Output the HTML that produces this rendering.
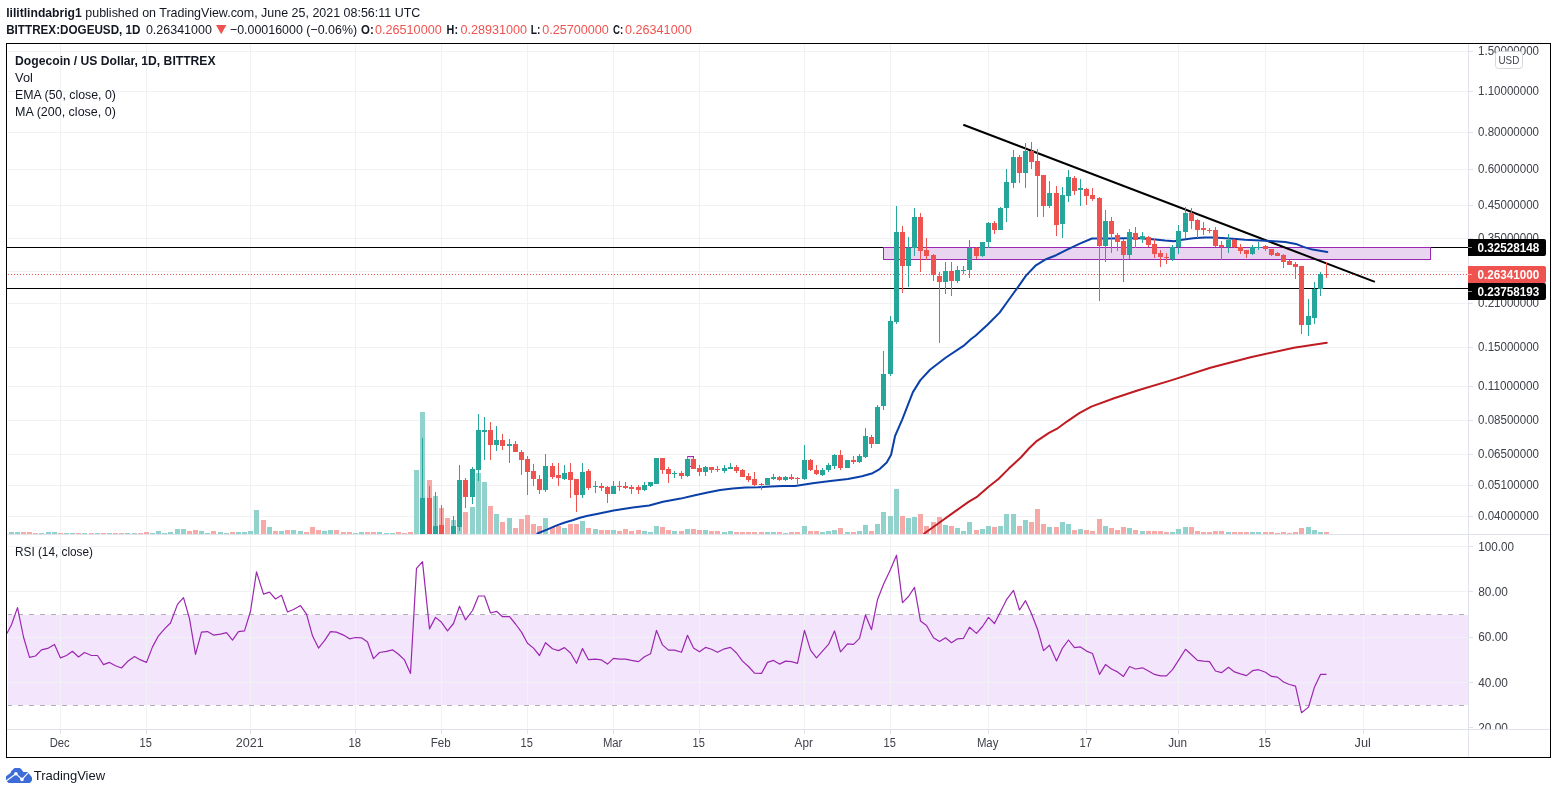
<!DOCTYPE html>
<html><head><meta charset="utf-8"><title>DOGEUSD chart</title><style>
html,body{margin:0;padding:0;background:#fff;width:1557px;height:794px;overflow:hidden}
svg{position:absolute;left:0;top:0;display:block}
text{font-family:"Liberation Sans",Arial,sans-serif}
</style></head><body>
<svg width="1557" height="794" viewBox="0 0 1557 794" shape-rendering="crispEdges">
<defs><clipPath id="pp"><rect x="7" y="44" width="1461" height="490"/></clipPath><clipPath id="rp"><rect x="7" y="535" width="1461" height="194"/></clipPath><clipPath id="ax"><rect x="1469" y="44" width="81" height="490"/></clipPath><clipPath id="ax2"><rect x="1469" y="535" width="81" height="194"/></clipPath></defs>
<rect x="0" y="0" width="1557" height="794" fill="#fff"/>
<text x="6.2" y="16.7" font-size="13" font-weight="bold" fill="#131722" textLength="75.6" lengthAdjust="spacingAndGlyphs">lilitlindabrig1</text>
<text x="85.3" y="16.7" font-size="13" fill="#131722" textLength="335" lengthAdjust="spacingAndGlyphs">published on TradingView.com, June 25, 2021 08:56:11 UTC</text>
<text x="6.2" y="33.9" font-size="13" font-weight="bold" fill="#131722" textLength="134.3" lengthAdjust="spacingAndGlyphs">BITTREX:DOGEUSD, 1D</text>
<text x="145.9" y="33.9" font-size="13" fill="#131722" textLength="66" lengthAdjust="spacingAndGlyphs">0.26341000</text>
<path d="M216 25 L226.4 25 L221.2 34.3 Z" fill="#ef5350" shape-rendering="auto"/>
<text x="229.9" y="33.9" font-size="13" fill="#131722" textLength="127.2" lengthAdjust="spacingAndGlyphs">−0.00016000 (−0.06%)</text>
<text x="361.0" y="33.9" font-size="13" font-weight="bold" fill="#131722" textLength="12.7" lengthAdjust="spacingAndGlyphs">O:</text>
<text x="374.9" y="33.9" font-size="13" fill="#ef5350" textLength="66.9" lengthAdjust="spacingAndGlyphs">0.26510000</text>
<text x="446.6" y="33.9" font-size="13" font-weight="bold" fill="#131722" textLength="11.4" lengthAdjust="spacingAndGlyphs">H:</text>
<text x="460.4" y="33.9" font-size="13" fill="#ef5350" textLength="66.6" lengthAdjust="spacingAndGlyphs">0.28931000</text>
<text x="530.8" y="33.9" font-size="13" font-weight="bold" fill="#131722" textLength="9.6" lengthAdjust="spacingAndGlyphs">L:</text>
<text x="542.2" y="33.9" font-size="13" fill="#ef5350" textLength="66.6" lengthAdjust="spacingAndGlyphs">0.25700000</text>
<text x="613.0" y="33.9" font-size="13" font-weight="bold" fill="#131722" textLength="10.2" lengthAdjust="spacingAndGlyphs">C:</text>
<text x="625.0" y="33.9" font-size="13" fill="#ef5350" textLength="66.7" lengthAdjust="spacingAndGlyphs">0.26341000</text>
<rect x="8" y="615" width="1460" height="90" fill="#f3e6fc"/>
<g fill="#f1f2f3"><rect x="8" y="51" width="1460" height="1"/><rect x="8" y="91" width="1460" height="1"/><rect x="8" y="132" width="1460" height="1"/><rect x="8" y="169" width="1460" height="1"/><rect x="8" y="205" width="1460" height="1"/><rect x="8" y="238" width="1460" height="1"/><rect x="8" y="271" width="1460" height="1"/><rect x="8" y="303" width="1460" height="1"/><rect x="8" y="347" width="1460" height="1"/><rect x="8" y="386" width="1460" height="1"/><rect x="8" y="420" width="1460" height="1"/><rect x="8" y="454" width="1460" height="1"/><rect x="8" y="485" width="1460" height="1"/><rect x="8" y="516" width="1460" height="1"/><rect x="8" y="546" width="1460" height="1"/><rect x="8" y="591" width="1460" height="1"/><rect x="8" y="637" width="1460" height="1"/><rect x="8" y="682" width="1460" height="1"/><rect x="60" y="44" width="1" height="490"/><rect x="60" y="535" width="1" height="194"/><rect x="146" y="44" width="1" height="490"/><rect x="146" y="535" width="1" height="194"/><rect x="250" y="44" width="1" height="490"/><rect x="250" y="535" width="1" height="194"/><rect x="355" y="44" width="1" height="490"/><rect x="355" y="535" width="1" height="194"/><rect x="441" y="44" width="1" height="490"/><rect x="441" y="535" width="1" height="194"/><rect x="527" y="44" width="1" height="490"/><rect x="527" y="535" width="1" height="194"/><rect x="613" y="44" width="1" height="490"/><rect x="613" y="535" width="1" height="194"/><rect x="699" y="44" width="1" height="490"/><rect x="699" y="535" width="1" height="194"/><rect x="804" y="44" width="1" height="490"/><rect x="804" y="535" width="1" height="194"/><rect x="890" y="44" width="1" height="490"/><rect x="890" y="535" width="1" height="194"/><rect x="988" y="44" width="1" height="490"/><rect x="988" y="535" width="1" height="194"/><rect x="1086" y="44" width="1" height="490"/><rect x="1086" y="535" width="1" height="194"/><rect x="1178" y="44" width="1" height="490"/><rect x="1178" y="535" width="1" height="194"/><rect x="1265" y="44" width="1" height="490"/><rect x="1265" y="535" width="1" height="194"/><rect x="1363" y="44" width="1" height="490"/><rect x="1363" y="535" width="1" height="194"/></g>
<line x1="8" y1="614.5" x2="1468" y2="614.5" stroke="#aeb0b6" stroke-width="1" stroke-dasharray="5 6" stroke-dashoffset="1"/>
<line x1="8" y1="705.5" x2="1468" y2="705.5" stroke="#aeb0b6" stroke-width="1" stroke-dasharray="5 6" stroke-dashoffset="1"/>
<g clip-path="url(#pp)"><rect x="2" y="532" width="5" height="2" fill="#f7a9a7"/><rect x="9" y="532" width="5" height="2" fill="#92d2cc"/><rect x="15" y="532" width="5" height="2" fill="#92d2cc"/><rect x="21" y="532" width="5" height="2" fill="#f7a9a7"/><rect x="27" y="532" width="5" height="2" fill="#f7a9a7"/><rect x="33" y="533" width="5" height="1" fill="#f7a9a7"/><rect x="39" y="533" width="5" height="1" fill="#92d2cc"/><rect x="46" y="532" width="5" height="2" fill="#92d2cc"/><rect x="52" y="532" width="5" height="2" fill="#92d2cc"/><rect x="58" y="533" width="5" height="1" fill="#f7a9a7"/><rect x="64" y="533" width="5" height="1" fill="#92d2cc"/><rect x="70" y="533" width="5" height="1" fill="#92d2cc"/><rect x="76" y="533" width="5" height="1" fill="#f7a9a7"/><rect x="82" y="533" width="5" height="1" fill="#92d2cc"/><rect x="89" y="533" width="5" height="1" fill="#f7a9a7"/><rect x="95" y="533" width="5" height="1" fill="#92d2cc"/><rect x="101" y="533" width="5" height="1" fill="#f7a9a7"/><rect x="107" y="533" width="5" height="1" fill="#92d2cc"/><rect x="113" y="533" width="5" height="1" fill="#f7a9a7"/><rect x="119" y="533" width="5" height="1" fill="#f7a9a7"/><rect x="125" y="533" width="5" height="1" fill="#92d2cc"/><rect x="132" y="533" width="5" height="1" fill="#92d2cc"/><rect x="138" y="533" width="5" height="1" fill="#f7a9a7"/><rect x="144" y="532" width="5" height="2" fill="#f7a9a7"/><rect x="150" y="533" width="5" height="1" fill="#92d2cc"/><rect x="156" y="531" width="5" height="3" fill="#92d2cc"/><rect x="162" y="533" width="5" height="1" fill="#92d2cc"/><rect x="168" y="532" width="5" height="2" fill="#92d2cc"/><rect x="175" y="529" width="5" height="5" fill="#92d2cc"/><rect x="181" y="529" width="5" height="5" fill="#92d2cc"/><rect x="187" y="531" width="5" height="3" fill="#f7a9a7"/><rect x="193" y="530" width="5" height="4" fill="#f7a9a7"/><rect x="199" y="531" width="5" height="3" fill="#92d2cc"/><rect x="205" y="533" width="5" height="1" fill="#92d2cc"/><rect x="211" y="531" width="5" height="3" fill="#f7a9a7"/><rect x="218" y="532" width="5" height="2" fill="#92d2cc"/><rect x="224" y="533" width="5" height="1" fill="#92d2cc"/><rect x="230" y="532" width="5" height="2" fill="#f7a9a7"/><rect x="236" y="532" width="5" height="2" fill="#92d2cc"/><rect x="242" y="532" width="5" height="2" fill="#92d2cc"/><rect x="248" y="531" width="5" height="3" fill="#92d2cc"/><rect x="254" y="510" width="5" height="24" fill="#92d2cc"/><rect x="261" y="520" width="5" height="14" fill="#f7a9a7"/><rect x="267" y="527" width="5" height="7" fill="#92d2cc"/><rect x="273" y="531" width="5" height="3" fill="#f7a9a7"/><rect x="279" y="531" width="5" height="3" fill="#92d2cc"/><rect x="285" y="530" width="5" height="4" fill="#f7a9a7"/><rect x="291" y="530" width="5" height="4" fill="#92d2cc"/><rect x="298" y="531" width="5" height="3" fill="#92d2cc"/><rect x="304" y="532" width="5" height="2" fill="#f7a9a7"/><rect x="310" y="527" width="5" height="7" fill="#f7a9a7"/><rect x="316" y="530" width="5" height="4" fill="#f7a9a7"/><rect x="322" y="531" width="5" height="3" fill="#92d2cc"/><rect x="328" y="530" width="5" height="4" fill="#92d2cc"/><rect x="334" y="530" width="5" height="4" fill="#f7a9a7"/><rect x="341" y="532" width="5" height="2" fill="#f7a9a7"/><rect x="347" y="532" width="5" height="2" fill="#f7a9a7"/><rect x="353" y="533" width="5" height="1" fill="#92d2cc"/><rect x="359" y="532" width="5" height="2" fill="#92d2cc"/><rect x="365" y="532" width="5" height="2" fill="#f7a9a7"/><rect x="371" y="532" width="5" height="2" fill="#f7a9a7"/><rect x="377" y="532" width="5" height="2" fill="#92d2cc"/><rect x="384" y="533" width="5" height="1" fill="#92d2cc"/><rect x="390" y="533" width="5" height="1" fill="#92d2cc"/><rect x="396" y="532" width="5" height="2" fill="#f7a9a7"/><rect x="402" y="533" width="5" height="1" fill="#f7a9a7"/><rect x="408" y="532" width="5" height="2" fill="#f7a9a7"/><rect x="414" y="470" width="5" height="64" fill="#92d2cc"/><rect x="420" y="412" width="5" height="122" fill="#92d2cc"/><rect x="427" y="480" width="5" height="54" fill="#f7a9a7"/><rect x="433" y="496" width="5" height="38" fill="#92d2cc"/><rect x="439" y="508" width="5" height="26" fill="#f7a9a7"/><rect x="445" y="518" width="5" height="16" fill="#f7a9a7"/><rect x="451" y="520" width="5" height="14" fill="#92d2cc"/><rect x="457" y="527" width="5" height="7" fill="#92d2cc"/><rect x="463" y="512" width="5" height="22" fill="#f7a9a7"/><rect x="470" y="507" width="5" height="27" fill="#92d2cc"/><rect x="476" y="473" width="5" height="61" fill="#92d2cc"/><rect x="482" y="482" width="5" height="52" fill="#92d2cc"/><rect x="488" y="506" width="5" height="28" fill="#f7a9a7"/><rect x="494" y="514" width="5" height="20" fill="#92d2cc"/><rect x="500" y="522" width="5" height="12" fill="#f7a9a7"/><rect x="507" y="518" width="5" height="16" fill="#92d2cc"/><rect x="513" y="528" width="5" height="6" fill="#f7a9a7"/><rect x="519" y="519" width="5" height="15" fill="#f7a9a7"/><rect x="525" y="515" width="5" height="19" fill="#f7a9a7"/><rect x="531" y="524" width="5" height="10" fill="#f7a9a7"/><rect x="537" y="526" width="5" height="8" fill="#f7a9a7"/><rect x="543" y="518" width="5" height="16" fill="#92d2cc"/><rect x="550" y="527" width="5" height="7" fill="#f7a9a7"/><rect x="556" y="526" width="5" height="8" fill="#f7a9a7"/><rect x="562" y="528" width="5" height="6" fill="#92d2cc"/><rect x="568" y="524" width="5" height="10" fill="#f7a9a7"/><rect x="574" y="524" width="5" height="10" fill="#f7a9a7"/><rect x="580" y="521" width="5" height="13" fill="#92d2cc"/><rect x="586" y="528" width="5" height="6" fill="#f7a9a7"/><rect x="593" y="529" width="5" height="5" fill="#92d2cc"/><rect x="599" y="530" width="5" height="4" fill="#f7a9a7"/><rect x="605" y="530" width="5" height="4" fill="#f7a9a7"/><rect x="611" y="530" width="5" height="4" fill="#92d2cc"/><rect x="617" y="531" width="5" height="3" fill="#f7a9a7"/><rect x="623" y="529" width="5" height="5" fill="#f7a9a7"/><rect x="629" y="531" width="5" height="3" fill="#f7a9a7"/><rect x="636" y="530" width="5" height="4" fill="#f7a9a7"/><rect x="642" y="531" width="5" height="3" fill="#92d2cc"/><rect x="648" y="532" width="5" height="2" fill="#92d2cc"/><rect x="654" y="526" width="5" height="8" fill="#92d2cc"/><rect x="660" y="527" width="5" height="7" fill="#f7a9a7"/><rect x="666" y="530" width="5" height="4" fill="#f7a9a7"/><rect x="672" y="531" width="5" height="3" fill="#92d2cc"/><rect x="679" y="531" width="5" height="3" fill="#f7a9a7"/><rect x="685" y="529" width="5" height="5" fill="#92d2cc"/><rect x="691" y="529" width="5" height="5" fill="#f7a9a7"/><rect x="697" y="530" width="5" height="4" fill="#f7a9a7"/><rect x="703" y="530" width="5" height="4" fill="#92d2cc"/><rect x="709" y="531" width="5" height="3" fill="#f7a9a7"/><rect x="715" y="531" width="5" height="3" fill="#f7a9a7"/><rect x="722" y="532" width="5" height="2" fill="#92d2cc"/><rect x="728" y="531" width="5" height="3" fill="#92d2cc"/><rect x="734" y="532" width="5" height="2" fill="#f7a9a7"/><rect x="740" y="532" width="5" height="2" fill="#f7a9a7"/><rect x="746" y="532" width="5" height="2" fill="#f7a9a7"/><rect x="752" y="532" width="5" height="2" fill="#f7a9a7"/><rect x="759" y="532" width="5" height="2" fill="#f7a9a7"/><rect x="765" y="532" width="5" height="2" fill="#92d2cc"/><rect x="771" y="532" width="5" height="2" fill="#92d2cc"/><rect x="777" y="532" width="5" height="2" fill="#f7a9a7"/><rect x="783" y="533" width="5" height="1" fill="#92d2cc"/><rect x="789" y="532" width="5" height="2" fill="#f7a9a7"/><rect x="795" y="532" width="5" height="2" fill="#f7a9a7"/><rect x="802" y="526" width="5" height="8" fill="#92d2cc"/><rect x="808" y="531" width="5" height="3" fill="#f7a9a7"/><rect x="814" y="531" width="5" height="3" fill="#f7a9a7"/><rect x="820" y="532" width="5" height="2" fill="#92d2cc"/><rect x="826" y="531" width="5" height="3" fill="#92d2cc"/><rect x="832" y="530" width="5" height="4" fill="#92d2cc"/><rect x="838" y="528" width="5" height="6" fill="#f7a9a7"/><rect x="845" y="532" width="5" height="2" fill="#92d2cc"/><rect x="851" y="532" width="5" height="2" fill="#f7a9a7"/><rect x="857" y="531" width="5" height="3" fill="#92d2cc"/><rect x="863" y="525" width="5" height="9" fill="#92d2cc"/><rect x="869" y="531" width="5" height="3" fill="#f7a9a7"/><rect x="875" y="524" width="5" height="10" fill="#92d2cc"/><rect x="881" y="512" width="5" height="22" fill="#92d2cc"/><rect x="888" y="516" width="5" height="18" fill="#92d2cc"/><rect x="894" y="489" width="5" height="45" fill="#92d2cc"/><rect x="900" y="516" width="5" height="18" fill="#f7a9a7"/><rect x="906" y="518" width="5" height="16" fill="#92d2cc"/><rect x="912" y="517" width="5" height="17" fill="#92d2cc"/><rect x="918" y="514" width="5" height="20" fill="#f7a9a7"/><rect x="924" y="526" width="5" height="8" fill="#f7a9a7"/><rect x="931" y="522" width="5" height="12" fill="#f7a9a7"/><rect x="937" y="517" width="5" height="17" fill="#f7a9a7"/><rect x="943" y="525" width="5" height="9" fill="#92d2cc"/><rect x="949" y="526" width="5" height="8" fill="#f7a9a7"/><rect x="955" y="528" width="5" height="6" fill="#92d2cc"/><rect x="961" y="531" width="5" height="3" fill="#92d2cc"/><rect x="967" y="522" width="5" height="12" fill="#92d2cc"/><rect x="974" y="530" width="5" height="4" fill="#f7a9a7"/><rect x="980" y="529" width="5" height="5" fill="#92d2cc"/><rect x="986" y="526" width="5" height="8" fill="#92d2cc"/><rect x="992" y="527" width="5" height="7" fill="#f7a9a7"/><rect x="998" y="526" width="5" height="8" fill="#92d2cc"/><rect x="1004" y="514" width="5" height="20" fill="#92d2cc"/><rect x="1011" y="514" width="5" height="20" fill="#92d2cc"/><rect x="1017" y="526" width="5" height="8" fill="#f7a9a7"/><rect x="1023" y="520" width="5" height="14" fill="#92d2cc"/><rect x="1029" y="522" width="5" height="12" fill="#f7a9a7"/><rect x="1035" y="509" width="5" height="25" fill="#f7a9a7"/><rect x="1041" y="524" width="5" height="10" fill="#f7a9a7"/><rect x="1047" y="527" width="5" height="7" fill="#92d2cc"/><rect x="1054" y="527" width="5" height="7" fill="#f7a9a7"/><rect x="1060" y="522" width="5" height="12" fill="#92d2cc"/><rect x="1066" y="524" width="5" height="10" fill="#92d2cc"/><rect x="1072" y="530" width="5" height="4" fill="#f7a9a7"/><rect x="1078" y="529" width="5" height="5" fill="#92d2cc"/><rect x="1084" y="530" width="5" height="4" fill="#f7a9a7"/><rect x="1090" y="531" width="5" height="3" fill="#f7a9a7"/><rect x="1097" y="519" width="5" height="15" fill="#f7a9a7"/><rect x="1103" y="526" width="5" height="8" fill="#92d2cc"/><rect x="1109" y="528" width="5" height="6" fill="#f7a9a7"/><rect x="1115" y="530" width="5" height="4" fill="#f7a9a7"/><rect x="1121" y="527" width="5" height="7" fill="#f7a9a7"/><rect x="1127" y="528" width="5" height="6" fill="#92d2cc"/><rect x="1133" y="530" width="5" height="4" fill="#f7a9a7"/><rect x="1140" y="531" width="5" height="3" fill="#92d2cc"/><rect x="1146" y="531" width="5" height="3" fill="#f7a9a7"/><rect x="1152" y="531" width="5" height="3" fill="#f7a9a7"/><rect x="1158" y="531" width="5" height="3" fill="#f7a9a7"/><rect x="1164" y="532" width="5" height="2" fill="#f7a9a7"/><rect x="1170" y="532" width="5" height="2" fill="#92d2cc"/><rect x="1176" y="529" width="5" height="5" fill="#92d2cc"/><rect x="1183" y="527" width="5" height="7" fill="#92d2cc"/><rect x="1189" y="527" width="5" height="7" fill="#f7a9a7"/><rect x="1195" y="531" width="5" height="3" fill="#f7a9a7"/><rect x="1201" y="532" width="5" height="2" fill="#f7a9a7"/><rect x="1207" y="532" width="5" height="2" fill="#f7a9a7"/><rect x="1213" y="531" width="5" height="3" fill="#f7a9a7"/><rect x="1219" y="531" width="5" height="3" fill="#f7a9a7"/><rect x="1226" y="532" width="5" height="2" fill="#92d2cc"/><rect x="1232" y="532" width="5" height="2" fill="#f7a9a7"/><rect x="1238" y="532" width="5" height="2" fill="#f7a9a7"/><rect x="1244" y="532" width="5" height="2" fill="#f7a9a7"/><rect x="1250" y="532" width="5" height="2" fill="#92d2cc"/><rect x="1256" y="532" width="5" height="2" fill="#92d2cc"/><rect x="1263" y="532" width="5" height="2" fill="#f7a9a7"/><rect x="1269" y="532" width="5" height="2" fill="#f7a9a7"/><rect x="1275" y="533" width="5" height="1" fill="#f7a9a7"/><rect x="1281" y="532" width="5" height="2" fill="#f7a9a7"/><rect x="1287" y="533" width="5" height="1" fill="#f7a9a7"/><rect x="1293" y="532" width="5" height="2" fill="#f7a9a7"/><rect x="1299" y="528" width="5" height="6" fill="#f7a9a7"/><rect x="1306" y="527" width="5" height="7" fill="#92d2cc"/><rect x="1312" y="530" width="5" height="4" fill="#92d2cc"/><rect x="1318" y="532" width="5" height="2" fill="#92d2cc"/><rect x="1324" y="532" width="5" height="2" fill="#f7a9a7"/></g>
<g clip-path="url(#pp)">
<rect x="7" y="247" width="1461" height="1" fill="#000"/>
<rect x="7" y="288" width="1461" height="1" fill="#000"/>
<line x1="7" y1="274.5" x2="1468" y2="274.5" stroke="#ef5350" stroke-width="1" stroke-dasharray="1 2" stroke-dashoffset="-1"/>
<rect x="883.5" y="247.5" width="547" height="12" fill="#ead5f0" stroke="#9c27b0" stroke-width="1"/>
<rect x="687.5" y="456.5" width="6" height="10" fill="#f1e2f5" stroke="#9c27b0" stroke-width="1"/>
<line x1="963.3" y1="124.7" x2="1374.9" y2="281.9" stroke="#000" stroke-width="2" shape-rendering="auto"/>
</g>
<g clip-path="url(#pp)" shape-rendering="auto" fill="none" stroke-linejoin="round" stroke-linecap="round"><polyline points="924.2,533.5 940.3,522.0 954.4,511.9 968.5,501.9 976.5,497.2 988.6,486.7 998.7,478.7 1008.8,468.6 1020.8,457.5 1028.9,448.5 1037.0,440.8 1049.0,432.8 1057.1,428.7 1067.2,421.3 1079.3,413.2 1091.3,406.6 1114.1,398.2 1138.2,390.2 1170.3,380.6 1210.4,367.7 1250.6,357.3 1293.9,347.7 1326.8,342.8" stroke="#bf1b22" stroke-width="2"/><polyline points="537.4,533.5 547.0,529.6 555.5,525.9 564.0,522.8 572.5,520.2 579.9,517.7 586.7,516.0 598.0,513.7 613.6,510.5 632.8,507.4 649.2,505.5 663.0,501.7 680.6,498.6 695.0,495.2 707.6,492.6 720.2,490.1 732.8,488.5 745.4,487.5 758.0,487.2 770.6,486.6 783.2,486.0 795.0,486.1 812.6,483.2 830.3,481.1 847.9,479.0 862.0,476.2 872.6,473.2 879.7,469.1 886.7,462.6 891.1,454.7 895.0,436.2 902.3,419.3 912.9,392.1 920.4,380.1 930.0,369.8 945.2,358.0 963.4,345.9 971.4,338.8 975.5,335.8 987.5,324.7 999.6,312.6 1009.7,298.5 1017.8,287.4 1025.8,275.9 1035.9,265.3 1046.0,259.2 1056.1,255.2 1066.1,250.2 1079.8,243.6 1092.0,238.5 1110.1,238.6 1125.2,238.2 1140.3,238.2 1155.4,239.4 1165.0,240.6 1174.1,241.3 1182.0,239.8 1193.3,238.3 1204.7,237.5 1212.6,237.5 1221.7,237.9 1233.0,238.7 1245.0,239.8 1255.1,240.3 1270.2,240.9 1285.3,242.1 1295.9,243.9 1303.4,246.9 1312.5,249.6 1327.3,251.9" stroke="#0a40a8" stroke-width="2"/></g>
<g clip-path="url(#pp)"><rect x="422" y="438" width="1" height="102" fill="#26a69a"/><rect x="420" y="498" width="5" height="42" fill="#26a69a"/><rect x="429" y="486" width="1" height="54" fill="#ef5350"/><rect x="427" y="498" width="5" height="42" fill="#ef5350"/><rect x="435" y="492" width="1" height="48" fill="#26a69a"/><rect x="433" y="526" width="5" height="14" fill="#26a69a"/><rect x="441" y="505" width="1" height="35" fill="#ef5350"/><rect x="439" y="525" width="5" height="15" fill="#ef5350"/><rect x="453" y="516" width="1" height="24" fill="#26a69a"/><rect x="451" y="526" width="5" height="14" fill="#26a69a"/><rect x="459" y="465" width="1" height="66" fill="#26a69a"/><rect x="457" y="480" width="5" height="47" fill="#26a69a"/><rect x="465" y="478" width="1" height="30" fill="#ef5350"/><rect x="463" y="480" width="5" height="17" fill="#ef5350"/><rect x="472" y="467" width="1" height="37" fill="#26a69a"/><rect x="470" y="469" width="5" height="28" fill="#26a69a"/><rect x="478" y="414" width="1" height="67" fill="#26a69a"/><rect x="476" y="430" width="5" height="40" fill="#26a69a"/><rect x="484" y="417" width="1" height="43" fill="#26a69a"/><rect x="482" y="430" width="5" height="2" fill="#26a69a"/><rect x="490" y="422" width="1" height="38" fill="#ef5350"/><rect x="488" y="430" width="5" height="15" fill="#ef5350"/><rect x="496" y="426" width="1" height="25" fill="#26a69a"/><rect x="494" y="440" width="5" height="5" fill="#26a69a"/><rect x="502" y="434" width="1" height="16" fill="#ef5350"/><rect x="500" y="440" width="5" height="6" fill="#ef5350"/><rect x="509" y="439" width="1" height="24" fill="#26a69a"/><rect x="507" y="444" width="5" height="2" fill="#26a69a"/><rect x="515" y="441" width="1" height="11" fill="#ef5350"/><rect x="513" y="444" width="5" height="8" fill="#ef5350"/><rect x="521" y="450" width="1" height="25" fill="#ef5350"/><rect x="519" y="452" width="5" height="8" fill="#ef5350"/><rect x="527" y="456" width="1" height="39" fill="#ef5350"/><rect x="525" y="459" width="5" height="13" fill="#ef5350"/><rect x="533" y="464" width="1" height="22" fill="#ef5350"/><rect x="531" y="471" width="5" height="8" fill="#ef5350"/><rect x="539" y="475" width="1" height="19" fill="#ef5350"/><rect x="537" y="479" width="5" height="11" fill="#ef5350"/><rect x="545" y="454" width="1" height="38" fill="#26a69a"/><rect x="543" y="466" width="5" height="24" fill="#26a69a"/><rect x="552" y="463" width="1" height="16" fill="#ef5350"/><rect x="550" y="466" width="5" height="11" fill="#ef5350"/><rect x="558" y="463" width="1" height="23" fill="#ef5350"/><rect x="556" y="475" width="5" height="3" fill="#ef5350"/><rect x="564" y="465" width="1" height="15" fill="#26a69a"/><rect x="562" y="473" width="5" height="6" fill="#26a69a"/><rect x="570" y="463" width="1" height="35" fill="#ef5350"/><rect x="568" y="472" width="5" height="8" fill="#ef5350"/><rect x="576" y="479" width="1" height="33" fill="#ef5350"/><rect x="574" y="479" width="5" height="16" fill="#ef5350"/><rect x="582" y="463" width="1" height="35" fill="#26a69a"/><rect x="580" y="472" width="5" height="23" fill="#26a69a"/><rect x="588" y="469" width="1" height="21" fill="#ef5350"/><rect x="586" y="471" width="5" height="17" fill="#ef5350"/><rect x="595" y="481" width="1" height="12" fill="#26a69a"/><rect x="593" y="486" width="5" height="1" fill="#26a69a"/><rect x="601" y="483" width="1" height="8" fill="#ef5350"/><rect x="599" y="486" width="5" height="2" fill="#ef5350"/><rect x="607" y="486" width="1" height="17" fill="#ef5350"/><rect x="605" y="487" width="5" height="7" fill="#ef5350"/><rect x="613" y="481" width="1" height="13" fill="#26a69a"/><rect x="611" y="486" width="5" height="8" fill="#26a69a"/><rect x="619" y="481" width="1" height="10" fill="#ef5350"/><rect x="617" y="486" width="5" height="1" fill="#ef5350"/><rect x="625" y="482" width="1" height="7" fill="#ef5350"/><rect x="623" y="486" width="5" height="2" fill="#ef5350"/><rect x="631" y="485" width="1" height="9" fill="#ef5350"/><rect x="629" y="487" width="5" height="2" fill="#ef5350"/><rect x="638" y="485" width="1" height="9" fill="#ef5350"/><rect x="636" y="487" width="5" height="3" fill="#ef5350"/><rect x="644" y="482" width="1" height="9" fill="#26a69a"/><rect x="642" y="485" width="5" height="5" fill="#26a69a"/><rect x="650" y="482" width="1" height="5" fill="#26a69a"/><rect x="648" y="482" width="5" height="4" fill="#26a69a"/><rect x="656" y="458" width="1" height="26" fill="#26a69a"/><rect x="654" y="458" width="5" height="26" fill="#26a69a"/><rect x="662" y="458" width="1" height="16" fill="#ef5350"/><rect x="660" y="458" width="5" height="12" fill="#ef5350"/><rect x="668" y="467" width="1" height="16" fill="#ef5350"/><rect x="666" y="469" width="5" height="5" fill="#ef5350"/><rect x="674" y="471" width="1" height="7" fill="#26a69a"/><rect x="672" y="473" width="5" height="1" fill="#26a69a"/><rect x="681" y="471" width="1" height="8" fill="#ef5350"/><rect x="679" y="473" width="5" height="3" fill="#ef5350"/><rect x="687" y="456" width="1" height="21" fill="#26a69a"/><rect x="685" y="459" width="5" height="17" fill="#26a69a"/><rect x="693" y="458" width="1" height="11" fill="#ef5350"/><rect x="691" y="459" width="5" height="10" fill="#ef5350"/><rect x="699" y="465" width="1" height="11" fill="#ef5350"/><rect x="697" y="468" width="5" height="4" fill="#ef5350"/><rect x="705" y="466" width="1" height="10" fill="#26a69a"/><rect x="703" y="467" width="5" height="5" fill="#26a69a"/><rect x="711" y="467" width="1" height="6" fill="#ef5350"/><rect x="709" y="467" width="5" height="3" fill="#ef5350"/><rect x="717" y="466" width="1" height="6" fill="#ef5350"/><rect x="715" y="469" width="5" height="1" fill="#ef5350"/><rect x="724" y="465" width="1" height="8" fill="#26a69a"/><rect x="722" y="468" width="5" height="3" fill="#26a69a"/><rect x="730" y="463" width="1" height="6" fill="#26a69a"/><rect x="728" y="467" width="5" height="2" fill="#26a69a"/><rect x="736" y="465" width="1" height="8" fill="#ef5350"/><rect x="734" y="467" width="5" height="4" fill="#ef5350"/><rect x="742" y="469" width="1" height="8" fill="#ef5350"/><rect x="740" y="470" width="5" height="7" fill="#ef5350"/><rect x="748" y="473" width="1" height="9" fill="#ef5350"/><rect x="746" y="476" width="5" height="4" fill="#ef5350"/><rect x="754" y="472" width="1" height="14" fill="#ef5350"/><rect x="752" y="479" width="5" height="6" fill="#ef5350"/><rect x="761" y="483" width="1" height="7" fill="#ef5350"/><rect x="759" y="484" width="5" height="1" fill="#ef5350"/><rect x="767" y="478" width="1" height="7" fill="#26a69a"/><rect x="765" y="478" width="5" height="7" fill="#26a69a"/><rect x="773" y="474" width="1" height="6" fill="#26a69a"/><rect x="771" y="477" width="5" height="2" fill="#26a69a"/><rect x="779" y="476" width="1" height="5" fill="#ef5350"/><rect x="777" y="477" width="5" height="3" fill="#ef5350"/><rect x="785" y="476" width="1" height="5" fill="#26a69a"/><rect x="783" y="477" width="5" height="3" fill="#26a69a"/><rect x="791" y="474" width="1" height="6" fill="#ef5350"/><rect x="789" y="477" width="5" height="2" fill="#ef5350"/><rect x="797" y="477" width="1" height="7" fill="#ef5350"/><rect x="795" y="478" width="5" height="1" fill="#ef5350"/><rect x="804" y="445" width="1" height="35" fill="#26a69a"/><rect x="802" y="460" width="5" height="19" fill="#26a69a"/><rect x="810" y="459" width="1" height="12" fill="#ef5350"/><rect x="808" y="460" width="5" height="10" fill="#ef5350"/><rect x="816" y="465" width="1" height="10" fill="#ef5350"/><rect x="814" y="470" width="5" height="4" fill="#ef5350"/><rect x="822" y="468" width="1" height="8" fill="#26a69a"/><rect x="820" y="470" width="5" height="5" fill="#26a69a"/><rect x="828" y="463" width="1" height="9" fill="#26a69a"/><rect x="826" y="465" width="5" height="5" fill="#26a69a"/><rect x="834" y="454" width="1" height="15" fill="#26a69a"/><rect x="832" y="455" width="5" height="11" fill="#26a69a"/><rect x="840" y="450" width="1" height="20" fill="#ef5350"/><rect x="838" y="455" width="5" height="13" fill="#ef5350"/><rect x="847" y="460" width="1" height="8" fill="#26a69a"/><rect x="845" y="460" width="5" height="8" fill="#26a69a"/><rect x="853" y="456" width="1" height="8" fill="#ef5350"/><rect x="851" y="460" width="5" height="2" fill="#ef5350"/><rect x="859" y="454" width="1" height="9" fill="#26a69a"/><rect x="857" y="456" width="5" height="6" fill="#26a69a"/><rect x="865" y="428" width="1" height="30" fill="#26a69a"/><rect x="863" y="436" width="5" height="21" fill="#26a69a"/><rect x="871" y="435" width="1" height="13" fill="#ef5350"/><rect x="869" y="437" width="5" height="7" fill="#ef5350"/><rect x="877" y="405" width="1" height="39" fill="#26a69a"/><rect x="875" y="407" width="5" height="37" fill="#26a69a"/><rect x="883" y="351" width="1" height="59" fill="#26a69a"/><rect x="881" y="374" width="5" height="32" fill="#26a69a"/><rect x="890" y="316" width="1" height="60" fill="#26a69a"/><rect x="888" y="321" width="5" height="53" fill="#26a69a"/><rect x="896" y="206" width="1" height="118" fill="#26a69a"/><rect x="894" y="232" width="5" height="90" fill="#26a69a"/><rect x="902" y="226" width="1" height="67" fill="#ef5350"/><rect x="900" y="232" width="5" height="34" fill="#ef5350"/><rect x="908" y="237" width="1" height="50" fill="#26a69a"/><rect x="906" y="248" width="5" height="18" fill="#26a69a"/><rect x="914" y="208" width="1" height="48" fill="#26a69a"/><rect x="912" y="217" width="5" height="31" fill="#26a69a"/><rect x="920" y="213" width="1" height="59" fill="#ef5350"/><rect x="918" y="217" width="5" height="34" fill="#ef5350"/><rect x="926" y="238" width="1" height="22" fill="#ef5350"/><rect x="924" y="250" width="5" height="6" fill="#ef5350"/><rect x="933" y="254" width="1" height="27" fill="#ef5350"/><rect x="931" y="255" width="5" height="20" fill="#ef5350"/><rect x="939" y="272" width="1" height="71" fill="#ef5350"/><rect x="937" y="276" width="5" height="6" fill="#ef5350"/><rect x="945" y="262" width="1" height="32" fill="#26a69a"/><rect x="943" y="271" width="5" height="11" fill="#26a69a"/><rect x="951" y="262" width="1" height="34" fill="#ef5350"/><rect x="949" y="271" width="5" height="10" fill="#ef5350"/><rect x="957" y="266" width="1" height="17" fill="#26a69a"/><rect x="955" y="270" width="5" height="11" fill="#26a69a"/><rect x="963" y="266" width="1" height="8" fill="#26a69a"/><rect x="961" y="270" width="5" height="1" fill="#26a69a"/><rect x="969" y="240" width="1" height="38" fill="#26a69a"/><rect x="967" y="248" width="5" height="22" fill="#26a69a"/><rect x="976" y="247" width="1" height="12" fill="#ef5350"/><rect x="974" y="248" width="5" height="8" fill="#ef5350"/><rect x="982" y="242" width="1" height="15" fill="#26a69a"/><rect x="980" y="242" width="5" height="14" fill="#26a69a"/><rect x="988" y="222" width="1" height="26" fill="#26a69a"/><rect x="986" y="223" width="5" height="19" fill="#26a69a"/><rect x="994" y="221" width="1" height="13" fill="#ef5350"/><rect x="992" y="223" width="5" height="7" fill="#ef5350"/><rect x="1000" y="207" width="1" height="23" fill="#26a69a"/><rect x="998" y="208" width="5" height="22" fill="#26a69a"/><rect x="1006" y="169" width="1" height="53" fill="#26a69a"/><rect x="1004" y="182" width="5" height="26" fill="#26a69a"/><rect x="1013" y="150" width="1" height="38" fill="#26a69a"/><rect x="1011" y="157" width="5" height="26" fill="#26a69a"/><rect x="1019" y="155" width="1" height="28" fill="#ef5350"/><rect x="1017" y="157" width="5" height="16" fill="#ef5350"/><rect x="1025" y="143" width="1" height="45" fill="#26a69a"/><rect x="1023" y="151" width="5" height="22" fill="#26a69a"/><rect x="1031" y="142" width="1" height="27" fill="#ef5350"/><rect x="1029" y="151" width="5" height="11" fill="#ef5350"/><rect x="1037" y="149" width="1" height="68" fill="#ef5350"/><rect x="1035" y="161" width="5" height="15" fill="#ef5350"/><rect x="1043" y="175" width="1" height="42" fill="#ef5350"/><rect x="1041" y="175" width="5" height="31" fill="#ef5350"/><rect x="1049" y="181" width="1" height="27" fill="#26a69a"/><rect x="1047" y="193" width="5" height="13" fill="#26a69a"/><rect x="1056" y="186" width="1" height="50" fill="#ef5350"/><rect x="1054" y="193" width="5" height="32" fill="#ef5350"/><rect x="1062" y="187" width="1" height="51" fill="#26a69a"/><rect x="1060" y="195" width="5" height="29" fill="#26a69a"/><rect x="1068" y="170" width="1" height="32" fill="#26a69a"/><rect x="1066" y="177" width="5" height="19" fill="#26a69a"/><rect x="1074" y="176" width="1" height="19" fill="#ef5350"/><rect x="1072" y="178" width="5" height="13" fill="#ef5350"/><rect x="1080" y="179" width="1" height="27" fill="#26a69a"/><rect x="1078" y="188" width="5" height="2" fill="#26a69a"/><rect x="1086" y="188" width="1" height="17" fill="#ef5350"/><rect x="1084" y="189" width="5" height="7" fill="#ef5350"/><rect x="1092" y="188" width="1" height="13" fill="#ef5350"/><rect x="1090" y="195" width="5" height="4" fill="#ef5350"/><rect x="1099" y="197" width="1" height="104" fill="#ef5350"/><rect x="1097" y="198" width="5" height="48" fill="#ef5350"/><rect x="1105" y="210" width="1" height="52" fill="#26a69a"/><rect x="1103" y="221" width="5" height="25" fill="#26a69a"/><rect x="1111" y="217" width="1" height="36" fill="#ef5350"/><rect x="1109" y="221" width="5" height="13" fill="#ef5350"/><rect x="1117" y="233" width="1" height="18" fill="#ef5350"/><rect x="1115" y="235" width="5" height="7" fill="#ef5350"/><rect x="1123" y="239" width="1" height="43" fill="#ef5350"/><rect x="1121" y="241" width="5" height="14" fill="#ef5350"/><rect x="1129" y="229" width="1" height="30" fill="#26a69a"/><rect x="1127" y="232" width="5" height="23" fill="#26a69a"/><rect x="1135" y="227" width="1" height="21" fill="#ef5350"/><rect x="1133" y="233" width="5" height="7" fill="#ef5350"/><rect x="1142" y="232" width="1" height="11" fill="#26a69a"/><rect x="1140" y="236" width="5" height="3" fill="#26a69a"/><rect x="1148" y="236" width="1" height="11" fill="#ef5350"/><rect x="1146" y="237" width="5" height="8" fill="#ef5350"/><rect x="1154" y="239" width="1" height="19" fill="#ef5350"/><rect x="1152" y="244" width="5" height="10" fill="#ef5350"/><rect x="1160" y="250" width="1" height="17" fill="#ef5350"/><rect x="1158" y="253" width="5" height="4" fill="#ef5350"/><rect x="1166" y="253" width="1" height="11" fill="#ef5350"/><rect x="1164" y="257" width="5" height="1" fill="#ef5350"/><rect x="1172" y="245" width="1" height="16" fill="#26a69a"/><rect x="1170" y="247" width="5" height="12" fill="#26a69a"/><rect x="1178" y="225" width="1" height="29" fill="#26a69a"/><rect x="1176" y="231" width="5" height="16" fill="#26a69a"/><rect x="1185" y="207" width="1" height="31" fill="#26a69a"/><rect x="1183" y="213" width="5" height="19" fill="#26a69a"/><rect x="1191" y="208" width="1" height="21" fill="#ef5350"/><rect x="1189" y="213" width="5" height="8" fill="#ef5350"/><rect x="1197" y="219" width="1" height="19" fill="#ef5350"/><rect x="1195" y="220" width="5" height="10" fill="#ef5350"/><rect x="1203" y="222" width="1" height="13" fill="#ef5350"/><rect x="1201" y="228" width="5" height="2" fill="#ef5350"/><rect x="1209" y="228" width="1" height="5" fill="#ef5350"/><rect x="1207" y="230" width="5" height="1" fill="#ef5350"/><rect x="1215" y="227" width="1" height="20" fill="#ef5350"/><rect x="1213" y="230" width="5" height="16" fill="#ef5350"/><rect x="1221" y="241" width="1" height="19" fill="#ef5350"/><rect x="1219" y="245" width="5" height="2" fill="#ef5350"/><rect x="1228" y="234" width="1" height="19" fill="#26a69a"/><rect x="1226" y="240" width="5" height="7" fill="#26a69a"/><rect x="1234" y="239" width="1" height="9" fill="#ef5350"/><rect x="1232" y="240" width="5" height="7" fill="#ef5350"/><rect x="1240" y="244" width="1" height="10" fill="#ef5350"/><rect x="1238" y="247" width="5" height="4" fill="#ef5350"/><rect x="1246" y="250" width="1" height="8" fill="#ef5350"/><rect x="1244" y="250" width="5" height="4" fill="#ef5350"/><rect x="1252" y="245" width="1" height="10" fill="#26a69a"/><rect x="1250" y="247" width="5" height="7" fill="#26a69a"/><rect x="1258" y="242" width="1" height="8" fill="#26a69a"/><rect x="1256" y="247" width="5" height="1" fill="#26a69a"/><rect x="1265" y="245" width="1" height="6" fill="#ef5350"/><rect x="1263" y="246" width="5" height="3" fill="#ef5350"/><rect x="1271" y="249" width="1" height="7" fill="#ef5350"/><rect x="1269" y="249" width="5" height="6" fill="#ef5350"/><rect x="1277" y="252" width="1" height="4" fill="#ef5350"/><rect x="1275" y="253" width="5" height="3" fill="#ef5350"/><rect x="1283" y="254" width="1" height="14" fill="#ef5350"/><rect x="1281" y="255" width="5" height="7" fill="#ef5350"/><rect x="1289" y="260" width="1" height="5" fill="#ef5350"/><rect x="1287" y="261" width="5" height="4" fill="#ef5350"/><rect x="1295" y="262" width="1" height="17" fill="#ef5350"/><rect x="1293" y="264" width="5" height="3" fill="#ef5350"/><rect x="1301" y="266" width="1" height="68" fill="#ef5350"/><rect x="1299" y="266" width="5" height="59" fill="#ef5350"/><rect x="1308" y="299" width="1" height="37" fill="#26a69a"/><rect x="1306" y="316" width="5" height="9" fill="#26a69a"/><rect x="1314" y="282" width="1" height="42" fill="#26a69a"/><rect x="1312" y="289" width="5" height="29" fill="#26a69a"/><rect x="1320" y="272" width="1" height="24" fill="#26a69a"/><rect x="1318" y="274" width="5" height="15" fill="#26a69a"/><rect x="1326" y="262" width="1" height="16" fill="#ef5350"/><rect x="1324" y="274" width="5" height="1" fill="#ef5350"/></g>
<g clip-path="url(#rp)"><polyline points="6.9,633.4 11.5,624.8 17.5,607.6 23.5,637.0 29.5,657.4 35.5,656.0 41.5,649.8 48.5,648.1 54.5,644.4 60.5,657.9 66.5,655.5 72.5,651.3 78.5,657.0 84.5,652.5 91.5,655.5 97.5,655.5 103.5,664.6 109.5,662.4 115.5,665.8 121.5,668.0 127.5,661.6 134.5,656.5 140.5,659.9 146.5,662.4 152.5,646.9 158.5,635.8 164.5,628.9 170.5,623.0 177.5,604.4 183.5,597.7 189.5,618.6 195.5,654.3 201.5,632.1 207.5,631.6 213.5,635.1 220.5,634.1 226.5,632.6 232.5,640.2 238.5,631.6 244.5,630.9 250.5,611.3 256.5,571.9 263.5,594.1 269.5,592.1 275.5,599.0 281.5,595.3 287.5,612.0 293.5,609.5 300.5,605.6 306.5,614.2 312.5,635.8 318.5,648.1 324.5,640.7 330.5,631.6 336.5,632.1 343.5,635.1 349.5,638.8 355.5,637.5 361.5,637.8 367.5,642.0 373.5,658.7 379.5,652.5 386.5,651.3 392.5,649.8 398.5,654.3 404.5,659.9 410.5,673.4 416.5,568.3 422.5,561.6 429.5,628.9 435.5,617.4 441.5,622.3 447.5,630.9 453.5,623.5 459.5,606.3 465.5,619.9 472.5,610.5 478.5,596.0 484.5,596.0 490.5,613.0 496.5,611.3 502.5,616.7 509.5,616.7 515.5,624.0 521.5,632.1 527.5,643.2 533.5,648.1 539.5,655.5 545.5,642.7 552.5,648.8 558.5,650.6 564.5,647.6 570.5,653.0 576.5,663.3 582.5,648.6 588.5,659.7 595.5,659.2 601.5,659.9 607.5,664.1 613.5,658.4 619.5,659.2 625.5,659.2 631.5,660.4 638.5,661.6 644.5,656.7 650.5,653.8 656.5,630.4 662.5,644.9 668.5,650.1 674.5,650.1 681.5,652.3 687.5,635.3 693.5,648.1 699.5,651.8 705.5,647.4 711.5,649.3 717.5,652.3 724.5,648.8 730.5,647.4 736.5,653.0 742.5,661.1 748.5,666.5 754.5,673.2 761.5,673.4 767.5,662.4 773.5,660.4 779.5,664.1 785.5,661.1 791.5,661.6 797.5,663.3 804.5,630.4 810.5,650.1 816.5,657.9 822.5,651.1 828.5,644.4 834.5,630.9 840.5,651.8 847.5,643.9 853.5,644.4 859.5,638.3 865.5,614.9 871.5,629.7 877.5,599.7 883.5,584.2 890.5,569.5 896.5,555.2 902.5,602.7 908.5,596.5 914.5,587.4 920.5,621.1 926.5,625.5 933.5,637.8 939.5,641.5 945.5,637.8 951.5,642.7 957.5,638.8 963.5,638.3 969.5,627.2 976.5,633.4 982.5,626.5 988.5,617.4 994.5,623.5 1000.5,611.7 1006.5,599.7 1013.5,590.4 1019.5,610.0 1025.5,600.7 1031.5,613.7 1037.5,629.2 1043.5,650.6 1049.5,645.2 1056.5,660.9 1062.5,648.1 1068.5,640.0 1074.5,647.6 1080.5,646.9 1086.5,651.1 1092.5,653.5 1099.5,674.4 1105.5,664.6 1111.5,669.0 1117.5,671.9 1123.5,676.4 1129.5,666.5 1135.5,669.0 1142.5,667.8 1148.5,671.0 1154.5,674.4 1160.5,675.9 1166.5,675.9 1172.5,669.7 1178.5,660.4 1185.5,649.3 1191.5,654.7 1197.5,660.4 1203.5,661.1 1209.5,661.6 1215.5,671.0 1221.5,672.7 1228.5,667.3 1234.5,671.9 1240.5,673.9 1246.5,675.6 1252.5,670.7 1258.5,669.7 1265.5,672.2 1271.5,676.4 1277.5,677.1 1283.5,682.0 1289.5,684.5 1295.5,686.2 1301.5,712.7 1308.5,707.1 1314.5,686.9 1320.5,674.4 1326.5,674.4" fill="none" stroke="#9c27b0" stroke-width="1.2" stroke-linejoin="round" shape-rendering="auto"/></g>
<g fill="#e0e3eb"><rect x="7" y="534" width="1543" height="1"/><rect x="7" y="729" width="1543" height="1"/><rect x="1468" y="44" width="1" height="713"/>
<rect x="1469" y="51" width="4" height="1"/>
<rect x="1469" y="91" width="4" height="1"/>
<rect x="1469" y="132" width="4" height="1"/>
<rect x="1469" y="169" width="4" height="1"/>
<rect x="1469" y="205" width="4" height="1"/>
<rect x="1469" y="238" width="4" height="1"/>
<rect x="1469" y="271" width="4" height="1"/>
<rect x="1469" y="303" width="4" height="1"/>
<rect x="1469" y="347" width="4" height="1"/>
<rect x="1469" y="386" width="4" height="1"/>
<rect x="1469" y="420" width="4" height="1"/>
<rect x="1469" y="454" width="4" height="1"/>
<rect x="1469" y="485" width="4" height="1"/>
<rect x="1469" y="516" width="4" height="1"/>
<rect x="1469" y="546" width="4" height="1"/>
<rect x="1469" y="591" width="4" height="1"/>
<rect x="1469" y="637" width="4" height="1"/>
<rect x="1469" y="682" width="4" height="1"/>
<rect x="1469" y="727" width="4" height="1"/>
<rect x="60" y="730" width="1" height="4"/>
<rect x="146" y="730" width="1" height="4"/>
<rect x="250" y="730" width="1" height="4"/>
<rect x="355" y="730" width="1" height="4"/>
<rect x="441" y="730" width="1" height="4"/>
<rect x="527" y="730" width="1" height="4"/>
<rect x="613" y="730" width="1" height="4"/>
<rect x="699" y="730" width="1" height="4"/>
<rect x="804" y="730" width="1" height="4"/>
<rect x="890" y="730" width="1" height="4"/>
<rect x="988" y="730" width="1" height="4"/>
<rect x="1086" y="730" width="1" height="4"/>
<rect x="1178" y="730" width="1" height="4"/>
<rect x="1265" y="730" width="1" height="4"/>
<rect x="1363" y="730" width="1" height="4"/>
</g>
<g clip-path="url(#ax)" font-size="12.5" fill="#3f424a"><text x="1478" y="54.7" textLength="61" lengthAdjust="spacingAndGlyphs">1.50000000</text><text x="1478" y="94.7" textLength="61" lengthAdjust="spacingAndGlyphs">1.10000000</text><text x="1478" y="135.7" textLength="61" lengthAdjust="spacingAndGlyphs">0.80000000</text><text x="1478" y="172.7" textLength="61" lengthAdjust="spacingAndGlyphs">0.60000000</text><text x="1478" y="208.7" textLength="61" lengthAdjust="spacingAndGlyphs">0.45000000</text><text x="1478" y="241.7" textLength="61" lengthAdjust="spacingAndGlyphs">0.35000000</text><text x="1478" y="306.7" textLength="61" lengthAdjust="spacingAndGlyphs">0.21000000</text><text x="1478" y="350.7" textLength="61" lengthAdjust="spacingAndGlyphs">0.15000000</text><text x="1478" y="389.7" textLength="61" lengthAdjust="spacingAndGlyphs">0.11000000</text><text x="1478" y="423.7" textLength="61" lengthAdjust="spacingAndGlyphs">0.08500000</text><text x="1478" y="457.7" textLength="61" lengthAdjust="spacingAndGlyphs">0.06500000</text><text x="1478" y="488.7" textLength="61" lengthAdjust="spacingAndGlyphs">0.05100000</text><text x="1478" y="519.7" textLength="61" lengthAdjust="spacingAndGlyphs">0.04000000</text></g>
<g clip-path="url(#ax2)" font-size="12.5" fill="#3f424a"><text x="1478.2" y="550.5" textLength="35.7" lengthAdjust="spacingAndGlyphs">100.00</text><text x="1478.2" y="595.9" textLength="29.7" lengthAdjust="spacingAndGlyphs">80.00</text><text x="1478.2" y="641.3" textLength="29.7" lengthAdjust="spacingAndGlyphs">60.00</text><text x="1478.2" y="686.8" textLength="29.7" lengthAdjust="spacingAndGlyphs">40.00</text><text x="1478.2" y="732.2" textLength="29.7" lengthAdjust="spacingAndGlyphs">20.00</text></g>
<path d="M1468 238.9 H1544 Q1546 238.9 1546 240.9 V253.9 Q1546 255.9 1544 255.9 H1468 Z" fill="#000" shape-rendering="auto"/>
<rect x="1468" y="247" width="4" height="1" fill="#8a8a8a"/>
<text x="1477.5" y="251.7" font-size="12.5" font-weight="bold" fill="#fff" textLength="61.8" lengthAdjust="spacingAndGlyphs">0.32528148</text>
<path d="M1468 266.0 H1544 Q1546 266.0 1546 268.0 V281.0 Q1546 283.0 1544 283.0 H1468 Z" fill="#ef5350" shape-rendering="auto"/>
<rect x="1468" y="274" width="4" height="1" fill="#f7b3b1"/>
<text x="1477.5" y="278.8" font-size="12.5" font-weight="bold" fill="#fff" textLength="61.8" lengthAdjust="spacingAndGlyphs">0.26341000</text>
<path d="M1468 283.0 H1544 Q1546 283.0 1546 285.0 V298.0 Q1546 300.0 1544 300.0 H1468 Z" fill="#000" shape-rendering="auto"/>
<rect x="1468" y="291" width="4" height="1" fill="#8a8a8a"/>
<text x="1477.5" y="295.8" font-size="12.5" font-weight="bold" fill="#fff" textLength="61.8" lengthAdjust="spacingAndGlyphs">0.23758193</text>
<rect x="1495.5" y="51.5" width="27" height="17" rx="3" ry="3" fill="#fff" stroke="#d6d8de" stroke-width="1" shape-rendering="auto"/>
<text x="1498.5" y="63.6" font-size="11.5" fill="#3f424a" textLength="20.8" lengthAdjust="spacingAndGlyphs">USD</text>
<g font-size="12.5" fill="#3f424a"><text x="49.7" y="746.8" textLength="20.0" lengthAdjust="spacingAndGlyphs">Dec</text><text x="139.6" y="746.8" textLength="12.3" lengthAdjust="spacingAndGlyphs">15</text><text x="235.7" y="746.8" textLength="28.0" lengthAdjust="spacingAndGlyphs">2021</text><text x="348.4" y="746.8" textLength="12.6" lengthAdjust="spacingAndGlyphs">18</text><text x="430.7" y="746.8" textLength="20.0" lengthAdjust="spacingAndGlyphs">Feb</text><text x="520.5" y="746.8" textLength="12.3" lengthAdjust="spacingAndGlyphs">15</text><text x="602.9" y="746.8" textLength="19.5" lengthAdjust="spacingAndGlyphs">Mar</text><text x="692.5" y="746.8" textLength="12.3" lengthAdjust="spacingAndGlyphs">15</text><text x="794.6" y="746.8" textLength="18.2" lengthAdjust="spacingAndGlyphs">Apr</text><text x="883.5" y="746.8" textLength="12.3" lengthAdjust="spacingAndGlyphs">15</text><text x="976.9" y="746.8" textLength="21.5" lengthAdjust="spacingAndGlyphs">May</text><text x="1079.5" y="746.8" textLength="12.5" lengthAdjust="spacingAndGlyphs">17</text><text x="1168.2" y="746.8" textLength="18.9" lengthAdjust="spacingAndGlyphs">Jun</text><text x="1258.6" y="746.8" textLength="12.3" lengthAdjust="spacingAndGlyphs">15</text><text x="1354.6" y="746.8" textLength="16.3" lengthAdjust="spacingAndGlyphs">Jul</text></g>
<g fill="#131722" font-size="13"><text x="15.1" y="65.2" font-weight="bold" textLength="200.5" lengthAdjust="spacingAndGlyphs">Dogecoin / US Dollar, 1D, BITTREX</text><text x="15.1" y="81.9" textLength="17.8" lengthAdjust="spacingAndGlyphs">Vol</text><text x="15.1" y="98.6" textLength="100.8" lengthAdjust="spacingAndGlyphs">EMA (50, close, 0)</text><text x="15.1" y="115.5" textLength="100.8" lengthAdjust="spacingAndGlyphs">MA (200, close, 0)</text><text x="15.0" y="555.7" textLength="78" lengthAdjust="spacingAndGlyphs">RSI (14, close)</text></g>
<rect x="6.5" y="43.5" width="1544" height="714" fill="none" stroke="#000" stroke-width="1" rx="1"/>
<g shape-rendering="auto"><path d="M6 776.3 L10.3 773.2 L11.4 771 L14.2 768.2 L15 767.9 L19.6 767.9 L21.2 769 L23.4 772 L27.8 772 L32 777.4 L32 780.4 L30 782.9 L8.6 782.9 L6 780.4 Z" fill="#3d6cd9"/><polyline points="6.2,781 15.9,773.7 22,779.4 28.8,772.2" fill="none" stroke="#fff" stroke-width="1.1"/><circle cx="15.9" cy="773.8" r="1.8" fill="#fff"/><circle cx="22" cy="779.4" r="1.8" fill="#fff"/></g>
<text x="33.7" y="780" font-size="13" fill="#131722" textLength="71.4" lengthAdjust="spacingAndGlyphs">TradingView</text>
</svg></body></html>
